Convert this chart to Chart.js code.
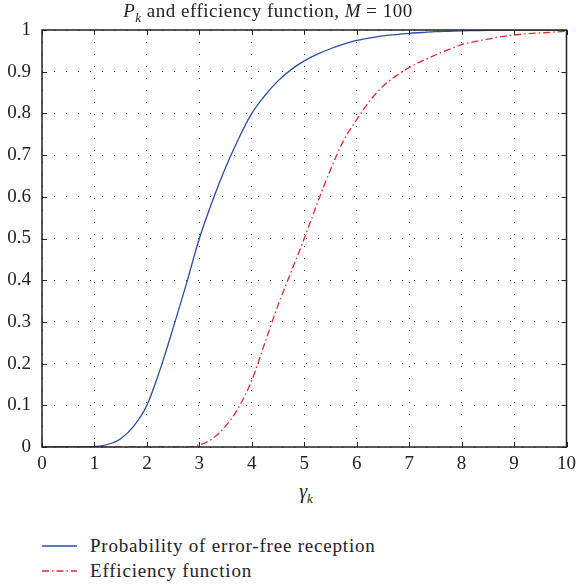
<!DOCTYPE html>
<html>
<head>
<meta charset="utf-8">
<script src="https://cdn.jsdelivr.net/npm/chart.js@4.4.0/dist/chart.umd.min.js"></script>
<style>
    body { margin: 0; background: #fff; }
    #wrap { position: relative; width: 582px; height: 585px; font-family: "Liberation Serif", "DejaVu Serif", serif; color: #222; }
    #plot { position: absolute; left: 0; top: 0; }
    .txt { position: absolute; white-space: nowrap; }
    #title { left: 0; width: 536px; top: 0px; text-align: center; font-size: 19px; letter-spacing: 0.5px; }
    #xlabel { left: 0; width: 612px; top: 480px; text-align: center; font-size: 20px; font-style: italic; }
    .legrow { position: absolute; left: 42px; font-size: 19px; letter-spacing: 0.8px; display: flex; align-items: center; }
    .legrow svg { margin-right: 13px; }
</style>
</head>
<body>
<div id="wrap">
    <canvas id="plot" width="582" height="480"></canvas>
    <div class="txt" id="title"><i>P</i><sub style="font-size:13px"><i>k</i></sub> and efficiency function, <i>M</i> = 100</div>
    <div class="txt" id="xlabel">γ<sub style="font-size:13px">k</sub></div>
    <div class="legrow" style="top:535px">
        <svg width="35" height="4"><line x1="0" y1="2" x2="35" y2="2" stroke="#2a4ea6" stroke-width="1.3"/></svg>
        <span>Probability of error-free reception</span>
    </div>
    <div class="legrow" style="top:560px">
        <svg width="35" height="4"><line x1="0" y1="2" x2="35" y2="2" stroke="#e8262e" stroke-width="1.3" stroke-dasharray="7 3 1.5 3"/></svg>
        <span>Efficiency function</span>
    </div>
</div>
<script>
// gamma_k values (x axis)
const gammaValues = [0, 0.25, 0.5, 0.75, 1, 1.25, 1.5, 1.75, 2, 2.25, 2.5, 2.75, 3, 3.25, 3.5, 3.75, 4, 4.25, 4.5, 4.75, 5,
    5.25, 5.5, 5.75, 6, 6.25, 6.5, 6.75, 7, 7.25, 7.5, 7.75, 8, 8.25, 8.5, 8.75, 9, 9.25, 9.5, 9.75, 10];

// probability of error-free reception
const probErrorFree = [0, 0, 0, 0, 0.001, 0.006, 0.02, 0.05, 0.1, 0.185, 0.285, 0.39, 0.5, 0.59, 0.67, 0.74, 0.8, 0.843, 0.878, 0.905, 0.926,
    0.942, 0.955, 0.966, 0.975, 0.981, 0.986, 0.989, 0.992, 0.994, 0.996, 0.997, 0.998, 0.9985, 0.999, 0.9993, 0.9995, 0.9997, 0.9998, 0.9999, 1];

// efficiency function
const efficiency = [0, 0, 0, 0, 0, 0, 0, 0, 0, 0, 0, 0, 0.005, 0.02, 0.05, 0.095, 0.16, 0.25, 0.34, 0.42, 0.5,
    0.585, 0.665, 0.735, 0.785, 0.83, 0.865, 0.89, 0.91, 0.926, 0.94, 0.953, 0.965, 0.972, 0.978, 0.984, 0.988, 0.991, 0.993, 0.995, 0.997];

const xTicks = [0, 1, 2, 3, 4, 5, 6, 7, 8, 9, 10];
const yTicks = [0, 0.1, 0.2, 0.3, 0.4, 0.5, 0.6, 0.7, 0.8, 0.9, 1];

const toPoints = ys => gammaValues.map((x, i) => ({ x: x, y: ys[i] }));

// frame box and inward ticks, MATLAB style
const framePlugin = {
    id: 'frame',
    afterDraw(chart) {
        const { ctx, chartArea: a, scales } = chart;
        ctx.save();
        ctx.strokeStyle = '#222';
        ctx.lineWidth = 1;
        ctx.beginPath();
        xTicks.forEach(v => {
            const px = Math.round(scales.x.getPixelForValue(v)) + 0.5;
            ctx.moveTo(px, a.bottom); ctx.lineTo(px, a.bottom - 5);
            ctx.moveTo(px, a.top); ctx.lineTo(px, a.top + 5);
        });
        yTicks.forEach(v => {
            const py = Math.round(scales.y.getPixelForValue(v)) + 0.5;
            ctx.moveTo(a.left, py); ctx.lineTo(a.left + 5, py);
            ctx.moveTo(a.right, py); ctx.lineTo(a.right - 5, py);
        });
        ctx.stroke();
        ctx.lineWidth = 1.5;
        ctx.strokeRect(a.left, a.top, a.right - a.left, a.bottom - a.top);
        ctx.restore();
    }
};

const tickFont = { family: '"Liberation Serif", serif', size: 19 };

new Chart(document.getElementById('plot'), {
    type: 'scatter',
    data: {
        datasets: [
            {
                label: 'Probability of error-free reception',
                data: toPoints(probErrorFree),
                showLine: true,
                borderColor: '#2a4ea6',
                borderWidth: 1.3,
                pointRadius: 0,
                cubicInterpolationMode: 'monotone'
            },
            {
                label: 'Efficiency function',
                data: toPoints(efficiency),
                showLine: true,
                borderColor: '#e8262e',
                borderWidth: 1.3,
                borderDash: [7, 3, 1.5, 3],
                pointRadius: 0,
                cubicInterpolationMode: 'monotone'
            }
        ]
    },
    options: {
        responsive: false,
        animation: false,
        layout: { padding: { top: 30, right: 11, left: 0, bottom: 0 } },
        plugins: { legend: { display: false }, tooltip: { enabled: false } },
        scales: {
            x: {
                type: 'linear', min: 0, max: 10,
                afterFit: s => { s.height = 33; },
                afterBuildTicks: s => { s.ticks = xTicks.map(v => ({ value: v })); },
                ticks: { font: tickFont, color: '#222', padding: 6 },
                grid: { color: '#333', lineWidth: 1, drawTicks: false },
                border: { display: false, dash: [1, 11] }
            },
            y: {
                type: 'linear', min: 0, max: 1,
                afterFit: s => { s.width = 42; },
                afterBuildTicks: s => { s.ticks = yTicks.map(v => ({ value: v })); },
                ticks: { font: tickFont, color: '#222', padding: 11, callback: v => String(Math.round(v * 10) / 10) },
                grid: { color: '#333', lineWidth: 1, drawTicks: false },
                border: { display: false, dash: [1, 11] }
            }
        }
    },
    plugins: [framePlugin]
});
</script>
</body>
</html>
